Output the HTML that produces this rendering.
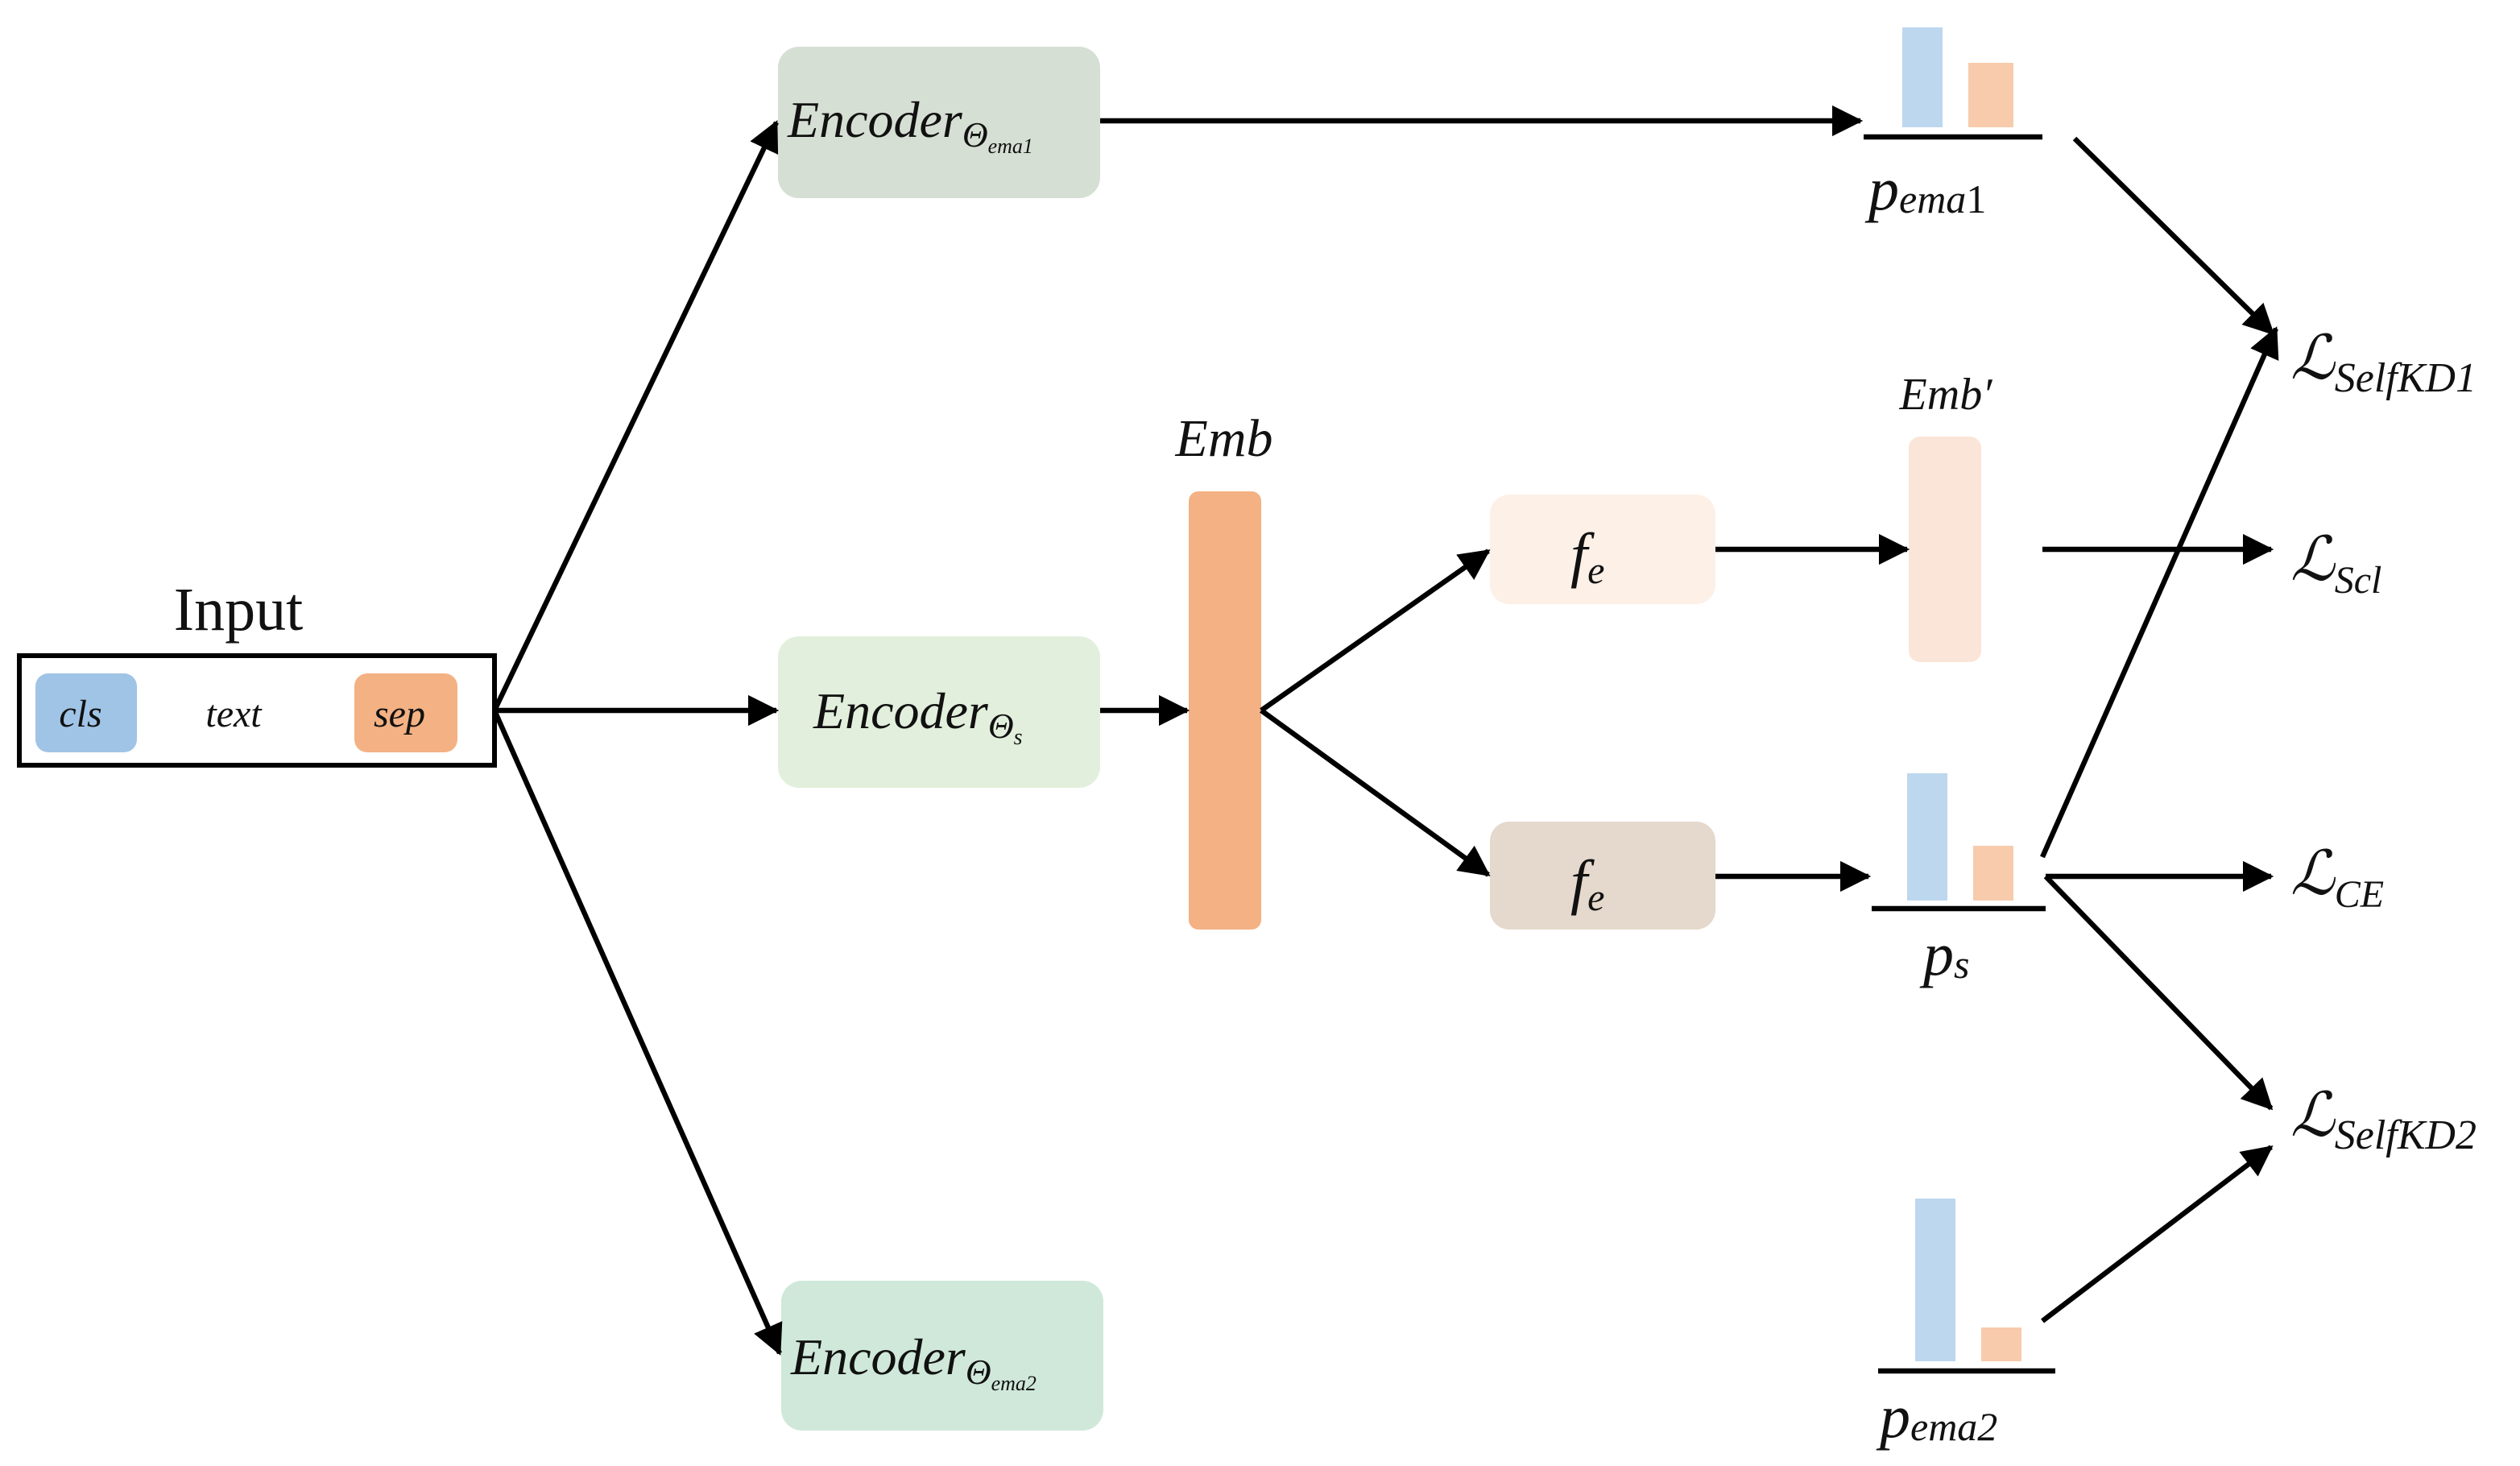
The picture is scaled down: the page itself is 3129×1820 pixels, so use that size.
<!DOCTYPE html>
<html><head><meta charset="utf-8"><style>
html,body{margin:0;padding:0;background:#fff;}
svg{display:block;}
text{font-family:"Liberation Serif","DejaVu Serif",serif;font-style:italic;fill:#111;}
</style></head><body>
<svg width="3129" height="1820" viewBox="0 0 1564.5 910" xmlns="http://www.w3.org/2000/svg">
<defs>
<marker id="a" markerWidth="6" markerHeight="6" refX="5.5" refY="3" orient="auto" markerUnits="strokeWidth">
<path d="M0,0 L6,3 L0,6 Z" fill="#000"/>
</marker>
</defs>
<!-- Input -->
<text x="148" y="391" font-size="38" text-anchor="middle" style="font-style:normal">Input</text>
<rect x="12" y="407" width="295" height="68" fill="none" stroke="#000" stroke-width="3"/>
<rect x="22" y="418" width="63" height="49" rx="8" fill="#a0c4e6"/>
<rect x="220" y="418" width="64" height="49" rx="8" fill="#f4b183"/>
<text x="50" y="451" font-size="24" text-anchor="middle">cls</text>
<text x="145" y="451" font-size="24" text-anchor="middle">text</text>
<text x="248" y="451" font-size="24" text-anchor="middle">sep</text>

<!-- Encoders -->
<rect x="483" y="29" width="200" height="94" rx="13" fill="#d6dfd4"/>
<text x="489" y="85" font-size="32">Encoder<tspan font-size="22" dy="6">Θ</tspan><tspan font-size="13" dy="4">ema1</tspan></text>
<rect x="483" y="395" width="200" height="94" rx="13" fill="#e2efdc"/>
<text x="505" y="452" font-size="32">Encoder<tspan font-size="22" dy="6">Θ</tspan><tspan font-size="14" dy="4">s</tspan></text>
<rect x="485" y="795" width="200" height="93" rx="13" fill="#cfe8da"/>
<text x="491" y="853" font-size="32">Encoder<tspan font-size="22" dy="6">Θ</tspan><tspan font-size="13" dy="4">ema2</tspan></text>

<!-- Emb -->
<text x="760" y="283" font-size="33" text-anchor="middle">Emb</text>
<rect x="738" y="305" width="45" height="272" rx="6" fill="#f4b183"/>

<!-- fe -->
<rect x="925" y="307" width="140" height="68" rx="12" fill="#fdf0e7"/>
<text x="975" y="357" font-size="38">f<tspan font-size="24" dy="5">e</tspan></text>
<rect x="925" y="510" width="140" height="67" rx="12" fill="#e5d8cc"/>
<text x="975" y="560" font-size="38">f<tspan font-size="24" dy="5">e</tspan></text>

<!-- Emb' -->
<text x="1208" y="254" font-size="28" text-anchor="middle">Emb′</text>
<rect x="1185" y="271" width="45" height="140" rx="7" fill="#fbe5d8"/>

<!-- p_ema1 -->
<rect x="1181" y="17" width="25" height="62" fill="#bdd7ee"/>
<rect x="1222" y="39" width="28" height="40" fill="#f7cbac"/>
<line x1="1157" y1="85" x2="1268" y2="85" stroke="#000" stroke-width="3.2"/>
<text x="1160" y="130" font-size="38">p<tspan font-size="25" dy="2">ema</tspan><tspan font-size="25" style="font-style:normal">1</tspan></text>

<!-- p_s -->
<rect x="1184" y="480" width="25" height="79" fill="#bdd7ee"/>
<rect x="1225" y="525" width="25" height="34" fill="#f7cbac"/>
<line x1="1162" y1="564" x2="1270" y2="564" stroke="#000" stroke-width="3.2"/>
<text x="1194" y="605" font-size="38">p<tspan font-size="25" dy="2">s</tspan></text>

<!-- p_ema2 -->
<rect x="1189" y="744" width="25" height="101" fill="#bdd7ee"/>
<rect x="1230" y="824" width="25" height="21" fill="#f7cbac"/>
<line x1="1166" y1="851" x2="1276" y2="851" stroke="#000" stroke-width="3.2"/>
<text x="1167" y="892" font-size="38">p<tspan font-size="25" dy="2">ema2</tspan></text>

<!-- Losses -->
<text x="1422" y="235" font-size="38">ℒ<tspan font-size="26" dy="8">SelfKD1</tspan></text>
<text x="1422" y="360" font-size="38">ℒ<tspan font-size="24" dy="8">Scl</tspan></text>
<text x="1422" y="555" font-size="38">ℒ<tspan font-size="24" dy="8">CE</tspan></text>
<text x="1422" y="705" font-size="38">ℒ<tspan font-size="26" dy="8">SelfKD2</tspan></text>

<!-- Arrows -->
<g stroke="#000" stroke-width="3.2" fill="none" marker-end="url(#a)">
<line x1="307" y1="441" x2="482" y2="76"/>
<line x1="307" y1="441" x2="482" y2="441"/>
<line x1="307" y1="441" x2="484" y2="840"/>
<line x1="683" y1="75" x2="1155" y2="75"/>
<line x1="683" y1="441" x2="737" y2="441"/>
<line x1="783" y1="441" x2="924" y2="342"/>
<line x1="783" y1="441" x2="924" y2="543"/>
<line x1="1065" y1="341" x2="1184" y2="341"/>
<line x1="1268" y1="341" x2="1410" y2="341"/>
<line x1="1065" y1="544" x2="1160" y2="544"/>
<line x1="1270" y1="544" x2="1410" y2="544"/>
<line x1="1268" y1="532" x2="1413" y2="204"/>
<line x1="1270" y1="544" x2="1410" y2="688"/>
<line x1="1288" y1="86" x2="1411" y2="207"/>
<line x1="1268" y1="820" x2="1410" y2="712"/>
</g>
</svg>
</body></html>
